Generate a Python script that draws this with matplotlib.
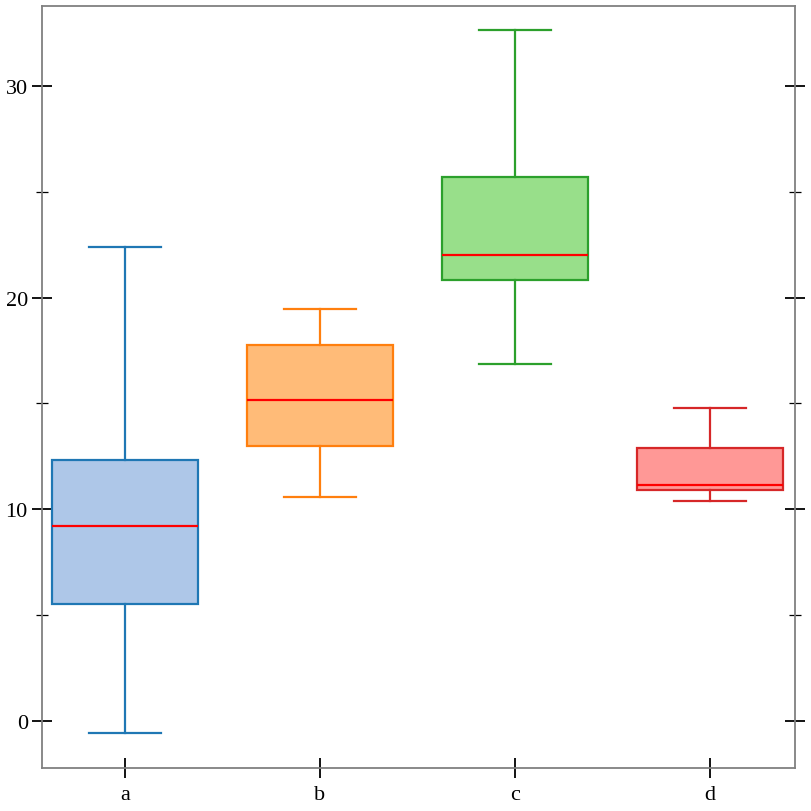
import matplotlib
matplotlib.use("Agg")
import matplotlib.pyplot as plt
from matplotlib.ticker import MultipleLocator

categories = ["a", "b", "c", "d"]
whislo = [-0.57, 10.58, 16.86, 10.39]
q1 = [5.53, 12.99, 20.83, 10.91]
med = [9.21, 15.16, 22.01, 11.15]
q3 = [12.33, 17.76, 25.70, 12.90]
whishi = [22.39, 19.46, 32.64, 14.79]
edge_colors = ["#1f77b4", "#ff7f0e", "#2ca02c", "#d62728"]
fill_colors = ["#aec7e8", "#ffbb78", "#98df8a", "#ff9896"]

plt.rcParams['font.family'] = ['Liberation Serif', 'DejaVu Serif']

fig = plt.figure(figsize=(8.12, 8.12), dpi=100)
ax = fig.add_axes([42/812, 43/812, (795-42)/812, (769-7)/812])

for i in range(len(categories)):
    stats = [dict(label=categories[i], whislo=whislo[i], q1=q1[i], med=med[i],
                  q3=q3[i], whishi=whishi[i], fliers=[])]
    ec = edge_colors[i]
    ax.bxp(stats, positions=[i], widths=0.75, patch_artist=True, showfliers=False,
           boxprops=dict(facecolor=fill_colors[i], edgecolor=ec, linewidth=1.6),
           whiskerprops=dict(color=ec, linewidth=1.6),
           capprops=dict(color=ec, linewidth=1.6),
           medianprops=dict(color="#ff0000", linewidth=1.6),
           capwidths=0.37)

ax.set_xlim(-0.426, 3.436)
ax.set_ylim(-2.22, 33.77)
ax.set_xticks(range(len(categories)))
ax.set_xticklabels(categories)
ax.yaxis.set_major_locator(MultipleLocator(10))
ax.yaxis.set_minor_locator(MultipleLocator(5))

for s in ax.spines.values():
    s.set_color("#808080")
    s.set_linewidth(1.3)

ax.tick_params(axis='both', which='major', direction='inout', length=14.4,
               width=1.3, color='black', labelsize=16, pad=3)
ax.tick_params(axis='x', which='major', pad=5)
ax.tick_params(axis='y', which='minor', direction='inout', length=8, width=0.9,
               color='black', left=True, right=True)
ax.tick_params(axis='y', which='major', right=True, labelright=False)
ax.tick_params(axis='x', which='both', top=False)

fig.savefig("out.png", dpi=100)
